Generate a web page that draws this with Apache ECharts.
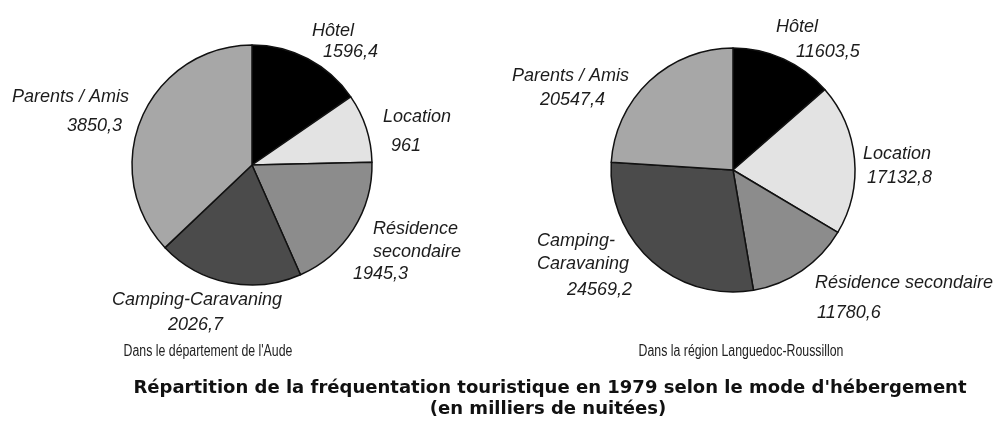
<!DOCTYPE html>
<html>
<head>
<meta charset="utf-8">
<script src="https://cdn.jsdelivr.net/npm/echarts@6/dist/echarts.min.js"></script>
<style>
  html, body { margin: 0; padding: 0; background: #fff; }
  #chart { width: 1001px; height: 421px; }
</style>
</head>
<body>
<div id="chart"></div>
<script>
const categories = ["Hôtel", "Location", "Résidence secondaire", "Camping-Caravaning", "Parents / Amis"];
const audeValues = [1596.4, 961, 1945.3, 2026.7, 3850.3];
const regionValues = [11603.5, 17132.8, 11780.6, 24569.2, 20547.4];
const captions = ["Dans le département de l'Aude", "Dans la région Languedoc-Roussillon"];
const titleLines = [
  "Répartition de la fréquentation touristique en 1979 selon le mode d'hébergement",
  "(en milliers de nuitées)"
];

// grey shades, same order as categories
const sliceColors = ["#000000", "#e3e3e3", "#8c8c8c", "#4b4b4b", "#a7a7a7"];

// label anchors: left edge, vertical middle
const audeNamePos = [[312, 31], [383, 117], [373, 240], [112, 300], [12, 97]];
const audeValuePos = [[323, 52], [391, 146], [353, 274], [168, 325], [67, 126]];
const regionNamePos = [[776, 27], [863, 154], [815, 283], [537, 252], [512, 76]];
const regionValuePos = [[796, 52], [867, 178], [817, 313], [567, 290], [540, 100]];
// how a name is wrapped in each chart
const audeWrap = ["", "", " ", "", ""];
const regionWrap = ["", "", "", "-", ""];

const labelFont = {
  fontFamily: "'Liberation Sans', Arial, sans-serif",
  fontStyle: "italic",
  fontSize: 18,
  lineHeight: 23,
  color: "#1c1c1c"
};

function fmt(v) {
  return String(v).replace(".", ",");
}

function wrapName(name, sep) {
  if (!sep) return name;
  return sep === " " ? name.replace(" ", "\n") : name.replace(sep, sep + "\n");
}

function pieSeries(values, center, radius, positions, withValue, wrap, filled) {
  return {
    type: "pie",
    center: center,
    radius: radius,
    startAngle: 90,
    clockwise: true,
    avoidLabelOverlap: false,
    silent: !filled,
    emphasis: { disabled: true },
    itemStyle: filled
      ? { borderColor: "#111", borderWidth: 1.5 }
      : { color: "rgba(0,0,0,0)", borderWidth: 0 },
    label: Object.assign({
      show: true,
      position: "outside",
      formatter: p => withValue ? fmt(p.value) : wrapName(p.name, wrap[p.dataIndex])
    }, labelFont),
    labelLine: { show: false },
    labelLayout: p => ({
      x: positions[p.dataIndex][0],
      y: positions[p.dataIndex][1],
      align: "left",
      verticalAlign: "middle"
    }),
    data: categories.map((c, i) => ({
      name: c,
      value: values[i],
      itemStyle: filled ? { color: sliceColors[i] } : undefined
    }))
  };
}

function caption(text, x, y) {
  return {
    type: "text", x: x, y: y, scaleX: 0.77,
    style: {
      text: text, textAlign: "center", textVerticalAlign: "middle",
      fontFamily: "'Liberation Sans', Arial, sans-serif",
      fontSize: 16, fill: "#222"
    }
  };
}

function titleText(text, x, y) {
  return {
    type: "text", x: x, y: y, scaleX: 1.06,
    style: {
      text: text, textAlign: "center", textVerticalAlign: "middle",
      fontFamily: "'DejaVu Sans', Verdana, sans-serif",
      fontWeight: "bold", fontSize: 17, fill: "#111"
    }
  };
}

const chart = echarts.init(document.getElementById("chart"), null, { renderer: "canvas" });

chart.setOption({
  animation: false,
  backgroundColor: "#ffffff",
  series: [
    pieSeries(audeValues, [252, 165], 120, audeNamePos, false, audeWrap, true),
    pieSeries(audeValues, [252, 165], 120, audeValuePos, true, audeWrap, false),
    pieSeries(regionValues, [733, 170], 122, regionNamePos, false, regionWrap, true),
    pieSeries(regionValues, [733, 170], 122, regionValuePos, true, regionWrap, false)
  ],
  graphic: [
    caption(captions[0], 208, 352),
    caption(captions[1], 741, 352),
    titleText(titleLines[0], 550, 389),
    titleText(titleLines[1], 548, 410)
  ]
});

window.addEventListener("resize", () => chart.resize());
</script>
</body>
</html>
